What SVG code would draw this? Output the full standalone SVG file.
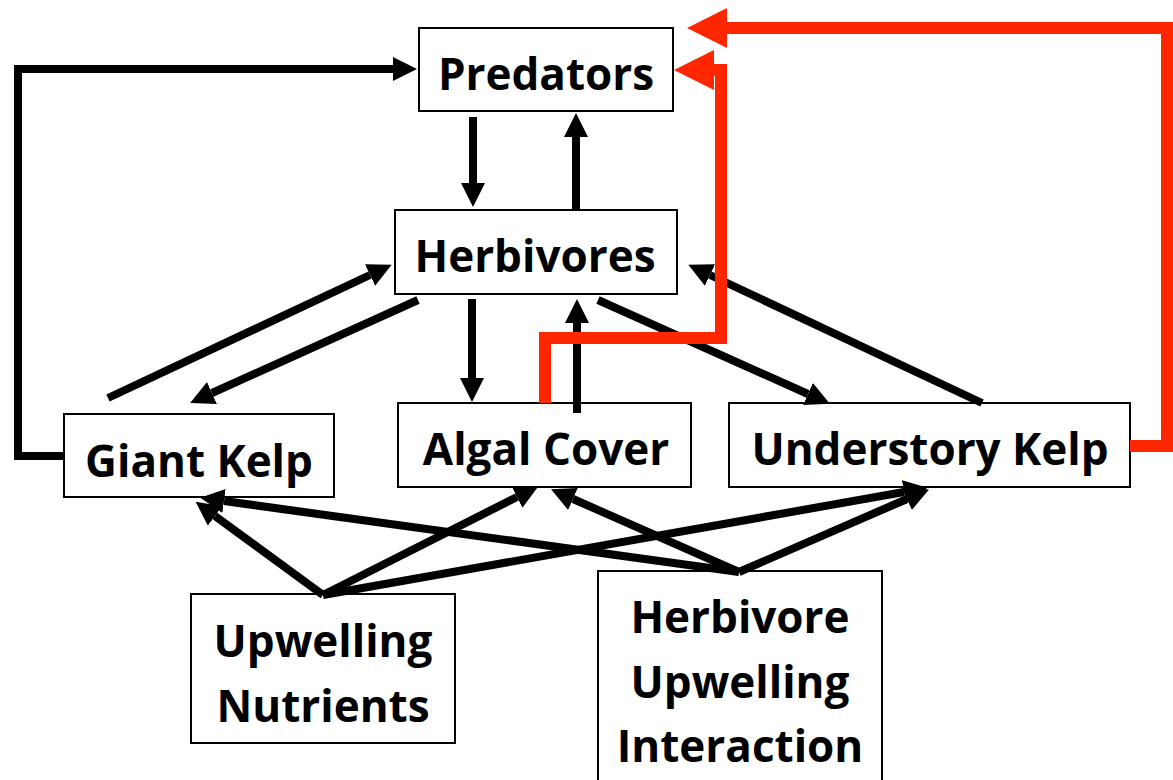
<svg xmlns="http://www.w3.org/2000/svg" width="1173" height="780" viewBox="0 0 1173 780">
  <style>
    .box { fill: #ffffff; stroke: #000000; stroke-width: 2; }
    .label { font-family: "Open Sans", "Liberation Sans", sans-serif; font-weight: 700; font-size: 44px; fill: #000000; text-anchor: middle; }
    .link { fill: none; stroke: #000000; stroke-width: 8; marker-end: url(#arrow); }
    .feedback { fill: none; stroke: #ff2600; stroke-width: 12; stroke-linejoin: miter; marker-end: url(#arrow-red); }
  </style>
  <defs>
    <marker id="arrow" markerUnits="userSpaceOnUse" markerWidth="24" markerHeight="24" refX="0" refY="12" orient="auto" viewBox="0 0 24 24">
      <path d="M0,0 L24,12 L0,24 Z" fill="#000000"/>
    </marker>
    <marker id="arrow-red" markerUnits="userSpaceOnUse" markerWidth="40" markerHeight="40" refX="0" refY="20" orient="auto" viewBox="0 0 40 40">
      <path d="M0,0 L40,20 L0,40 Z" fill="#ff2600"/>
    </marker>
  </defs>

  <rect width="1173" height="780" fill="#ffffff"/>

  <g id="predators">
    <rect class="box" x="419" y="28" width="254" height="83"/>
    <text class="label" x="546" y="90">Predators</text>
  </g>
  <g id="herbivores">
    <rect class="box" x="395" y="210" width="282" height="84"/>
    <text class="label" x="535" y="272">Herbivores</text>
  </g>
  <g id="giant-kelp">
    <rect class="box" x="64" y="414" width="270" height="83"/>
    <text class="label" x="199" y="477">Giant Kelp</text>
  </g>
  <g id="algal-cover">
    <rect class="box" x="398" y="403" width="293" height="84"/>
    <text class="label" x="546" y="465">Algal Cover</text>
  </g>
  <g id="understory-kelp">
    <rect class="box" x="729" y="403" width="401" height="84"/>
    <text class="label" x="930" y="465">Understory Kelp</text>
  </g>
  <g id="upwelling-nutrients">
    <rect class="box" x="191" y="594" width="264" height="149"/>
    <text class="label" x="323" y="657">Upwelling</text>
    <text class="label" x="323" y="722">Nutrients</text>
  </g>
  <g id="herbivore-upwelling-interaction">
    <rect class="box" x="598" y="571" width="284" height="230"/>
    <text class="label" x="740" y="633">Herbivore</text>
    <text class="label" x="740" y="698">Upwelling</text>
    <text class="label" x="740" y="762">Interaction</text>
  </g>

  <g id="connectors">
    <!-- trophic links -->
    <path class="link" d="M64,456 H18 V69 H393"/>
    <path class="link" d="M473,117 V183"/>
    <path class="link" d="M576,210 V137"/>
    <path class="link" d="M108,398 L370,275"/>
    <path class="link" d="M418,300 L212,393"/>
    <path class="link" d="M472,299 V378"/>
    <path class="link" d="M577,413 V323"/>
    <path class="link" d="M598,300 L808,394"/>
    <path class="link" d="M982,403 L710,275"/>
    <!-- upwelling drivers -->
    <path class="link" d="M323,595 L215,516"/>
    <path class="link" d="M323,595 L517,497"/>
    <path class="link" d="M323,595 L904,492"/>
    <path class="link" d="M739,572 L224,501"/>
    <path class="link" d="M739,572 L573,499"/>
    <path class="link" d="M739,572 L907,499"/>
    <!-- feedbacks to predators -->
    <path class="feedback" d="M545,403 V338 H721 V70 H714"/>
    <path class="feedback" d="M1130,446 H1167 V28 H727"/>
  </g>
</svg>
